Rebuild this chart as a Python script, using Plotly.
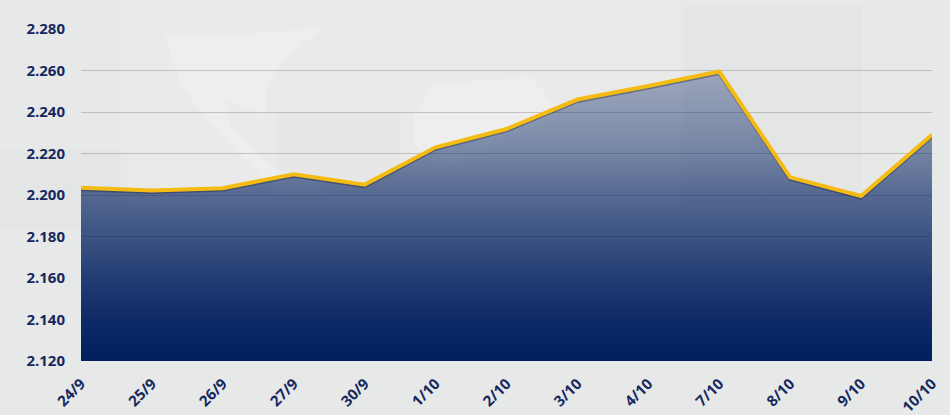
import plotly.graph_objects as go

dates = ["24/9","25/9","26/9","27/9","30/9","1/10","2/10","3/10","4/10","7/10","8/10","9/10","10/10"]
prices = [2.2035,2.2022,2.2033,2.2100,2.2050,2.2230,2.2318,2.2460,2.2525,2.2595,2.2085,2.1995,2.2290]
y_ticks = [2.12,2.14,2.16,2.18,2.20,2.22,2.24,2.26,2.28]
y_labels = ["2.120","2.140","2.160","2.180","2.200","2.220","2.240","2.260","2.280"]

NAVY = "#16295f"
BG = "#e7e8e8"
L, T, R, B = 81, 28.5, 932, 361

def fx(px): return (px - L) / (R - L)
def fy(py): return (B - py) / (B - T)

def poly(points, color):
    d = "M " + " L ".join(f"{fx(x):.4f},{fy(y):.4f}" for x, y in points) + " Z"
    return dict(type="path", path=d, xref="paper", yref="paper", layer="below", line_width=0, fillcolor=color)

def panel(x0, y0, x1, y1, color):
    return dict(type="rect", xref="paper", yref="paper", x0=fx(x0), y0=fy(y0), x1=fx(x1), y1=fy(y1),
                layer="below", line_width=0, fillcolor=color)

LAND = "rgba(255,255,255,0.2)"
SHADE = "rgba(0,0,0,0.012)"
backdrop = [
    panel(120, 0, 680, 210, "rgba(255,255,255,0.12)"),
    poly([(165,34),(242,34),(322,27),(280,65),(265,88),(265,115),(226,100),(230,126),(272,168),(265,180),(215,130),(180,84)], LAND),
    poly([(414,115),(433,84),(530,76),(560,110),(520,135),(440,170),(415,145)], LAND),
    poly([(272,168),(320,180),(345,210),(290,210),(268,185)], LAND),
    panel(683, 5, 862, 205, SHADE),
    panel(276, 112, 400, 180, SHADE),
    panel(0, 150, 127, 230, SHADE),
]

fig = go.Figure()
x_pos = list(range(len(dates)))
fig.add_trace(go.Scatter(
    x=x_pos, y=prices, mode="lines",
    line=dict(width=0),
    fill="tozeroy",
    fillgradient=dict(type="vertical", start=2.26, stop=2.12,
                      colorscale=[[0,"rgba(0,31,95,0.32)"],[0.143,"rgba(0,31,95,0.40)"],
                                  [0.286,"rgba(0,31,95,0.50)"],[0.429,"rgba(0,31,95,0.635)"],
                                  [0.571,"rgba(0,31,95,0.74)"],[0.714,"rgba(0,31,95,0.85)"],
                                  [0.857,"rgba(0,31,95,0.94)"],[1,"rgba(0,31,95,1)"]]),
    hoverinfo="skip", showlegend=False))
fig.add_trace(go.Scatter(
    x=x_pos, y=prices, mode="lines", yaxis="y2",
    line=dict(color="rgba(25,35,65,0.4)", width=4),
    hoverinfo="skip", showlegend=False))
fig.add_trace(go.Scatter(
    x=x_pos, y=prices, mode="lines", yaxis="y3",
    line=dict(color="#f4bb12", width=4),
    hoverinfo="skip", showlegend=False))

fig.update_layout(
    width=950, height=415, autosize=False,
    margin=dict(l=L, r=950-R, t=T, b=415-B),
    paper_bgcolor=BG, plot_bgcolor="rgba(0,0,0,0)",
    font=dict(family="Open Sans", size=15, color=NAVY),
    shapes=backdrop,
    xaxis=dict(range=[0,12], tickmode="array", tickvals=x_pos, ticktext=dates, automargin=False,
               tickangle=-45, showgrid=False, zeroline=False, showline=False, ticks="", ticklabelstandoff=10,
               tickfont=dict(family="Open Sans", size=15, color=NAVY, weight=700)),
    yaxis=dict(range=[2.12,2.28], tickmode="array", tickvals=y_ticks, ticktext=y_labels, automargin=False,
               showgrid=True, gridcolor="rgba(120,120,120,0.38)", gridwidth=1, zeroline=False, showline=False,
               ticks="", ticklen=0, ticklabelstandoff=15,
               tickfont=dict(family="Open Sans", size=15, color=NAVY, weight=700)),
    yaxis2=dict(range=[2.1207,2.2807], overlaying="y", visible=False),
    yaxis3=dict(range=[2.12,2.28], overlaying="y", visible=False),
)
fig.write_html("out.html", config={"displayModeBar": False},
               post_script=f"document.body.style.margin='0';document.body.style.background='{BG}';")
